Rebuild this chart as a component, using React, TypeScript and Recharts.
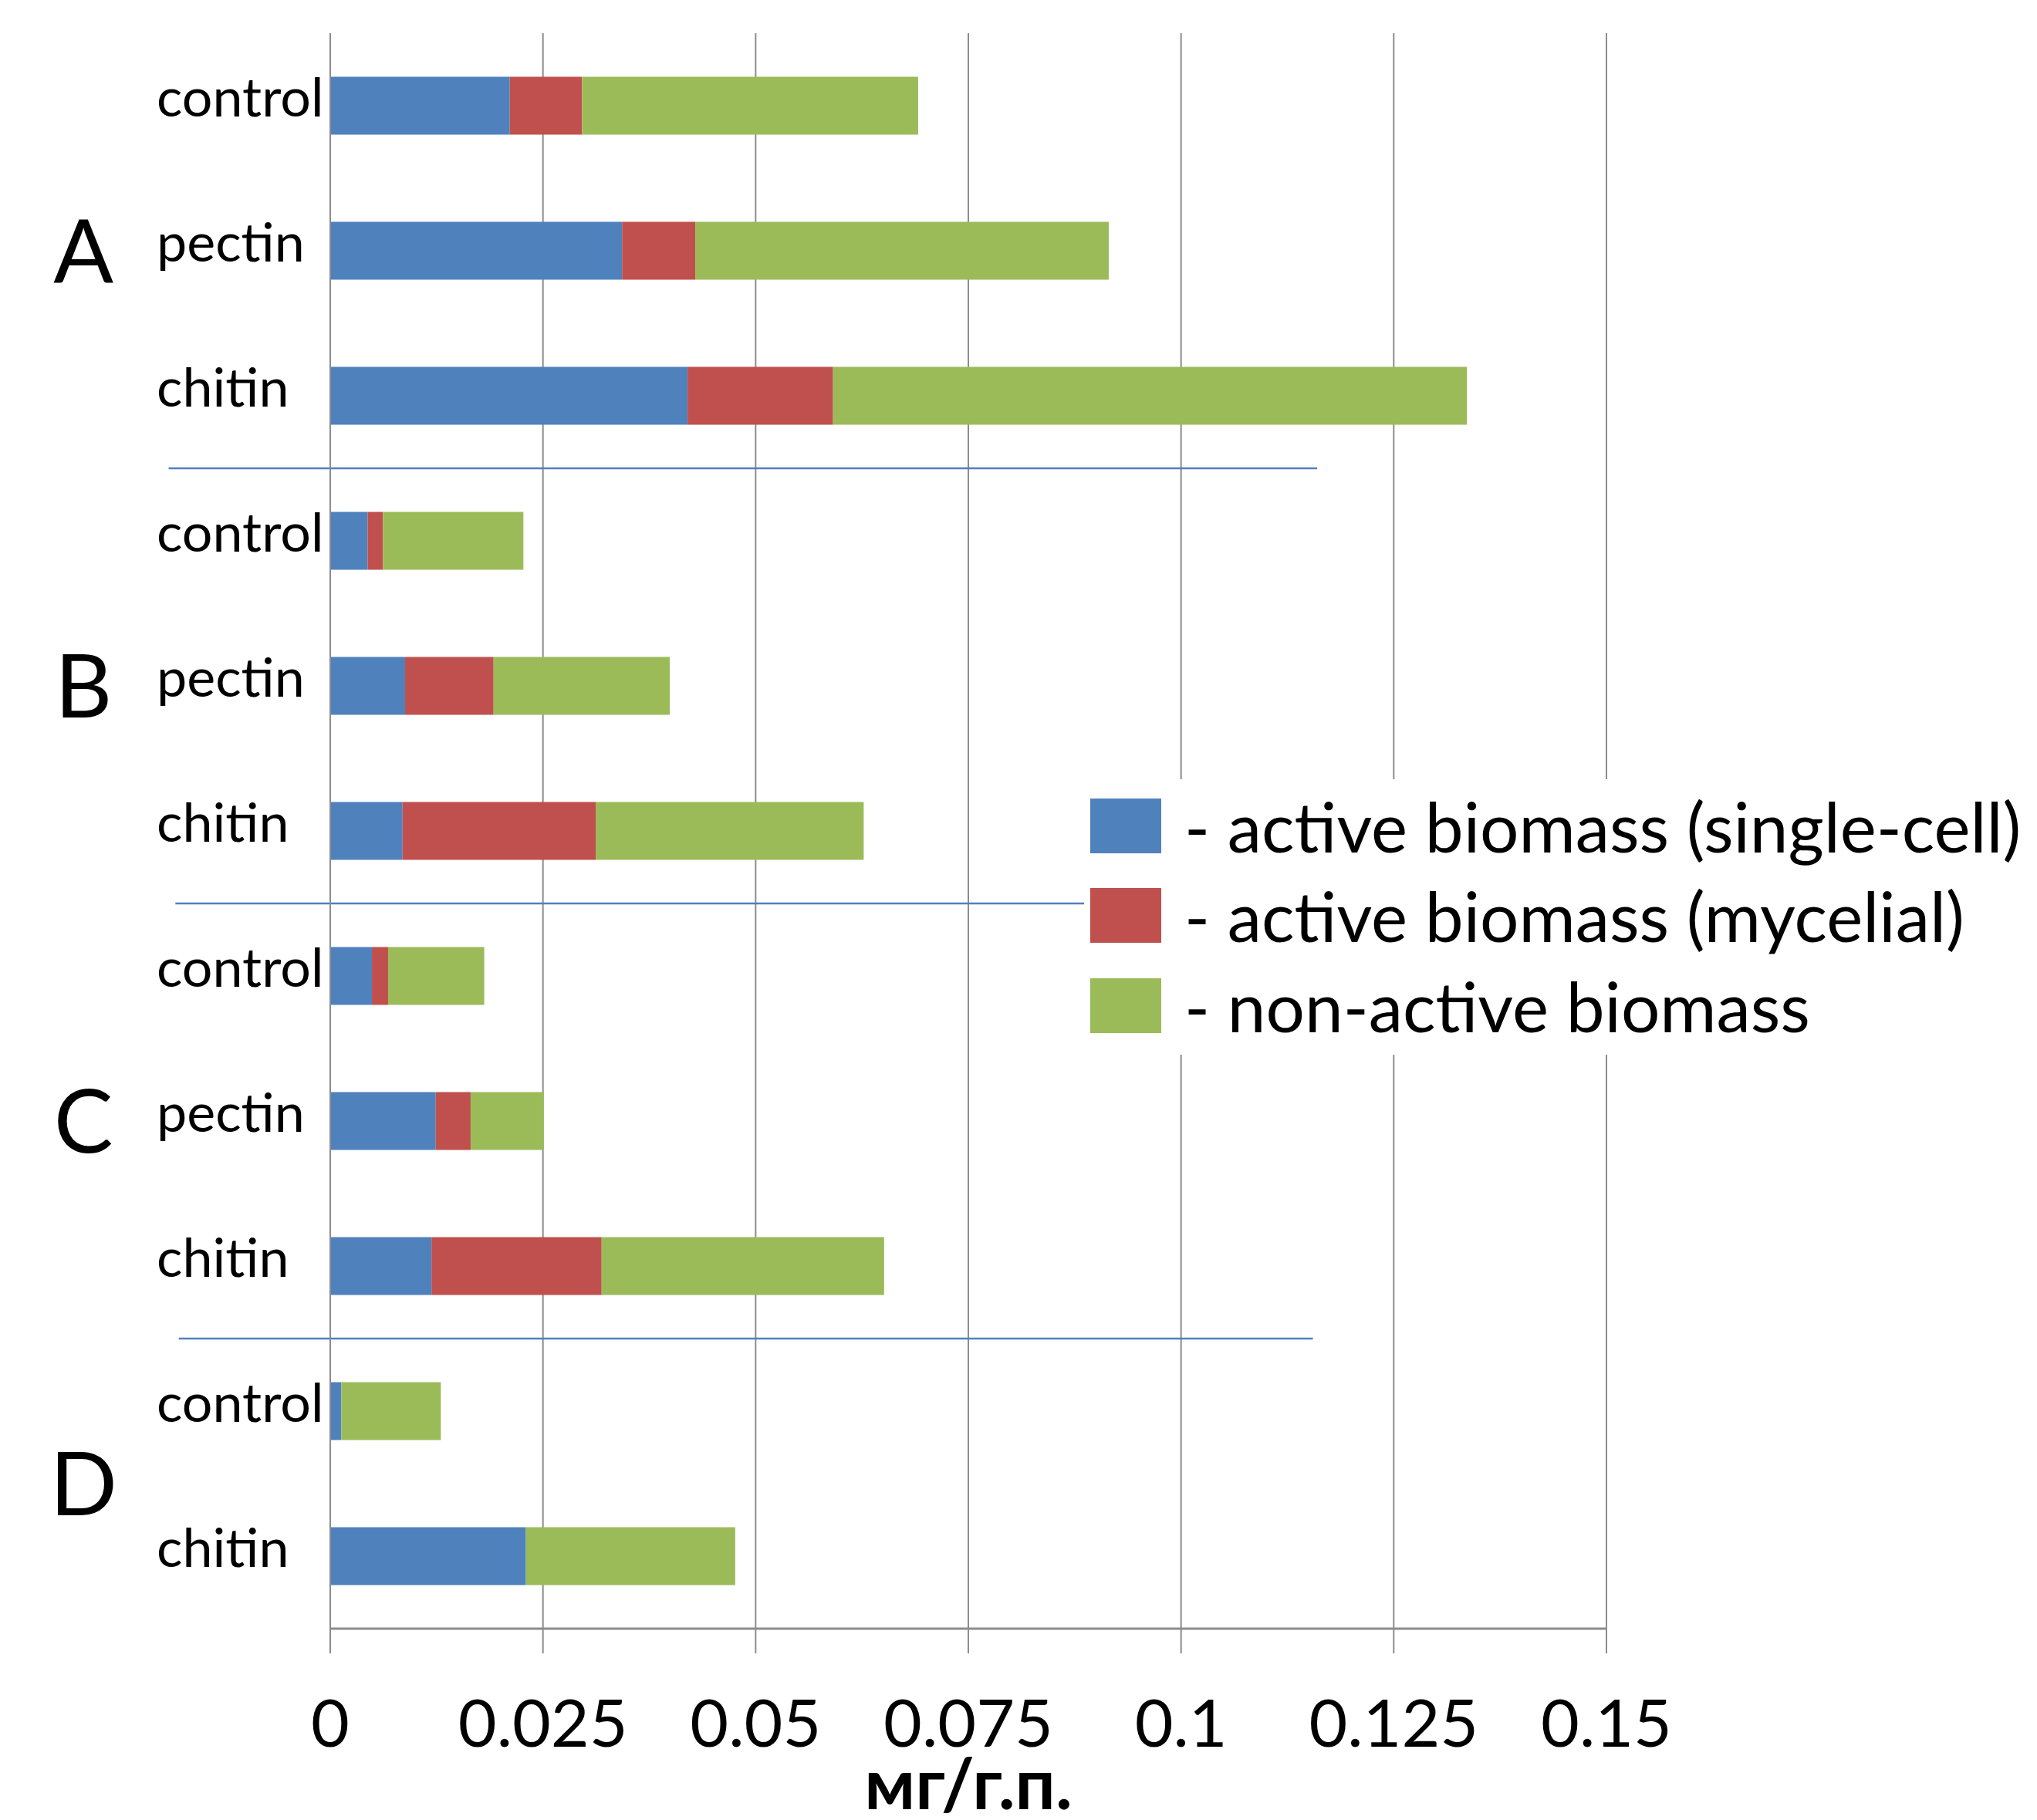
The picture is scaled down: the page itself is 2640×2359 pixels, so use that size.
import { BarChart, Bar, XAxis, YAxis, CartesianGrid, Legend, ReferenceLine, ReferenceArea } from 'recharts';

const categories = ['control', 'pectin', 'chitin', 'control', 'pectin', 'chitin', 'control', 'pectin', 'chitin', 'control', 'chitin'];
const groupOf = ['A', 'A', 'A', 'B', 'B', 'B', 'C', 'C', 'C', 'D', 'D'];
const groupLetters = ['A', 'B', 'C', 'D'];

const singleCell = [0.0211, 0.0343, 0.042, 0.0044, 0.0088, 0.0085, 0.0049, 0.0124, 0.0119, 0.0013, 0.023];
const mycelial = [0.0085, 0.0086, 0.0171, 0.0018, 0.0104, 0.0227, 0.0019, 0.0041, 0.02, 0, 0];
const nonActive = [0.0395, 0.0486, 0.0745, 0.0165, 0.0207, 0.0315, 0.0113, 0.0086, 0.0332, 0.0117, 0.0246];

const xTicks = [0, 0.025, 0.05, 0.075, 0.1, 0.125, 0.15];
const axisTitle = 'мг/г.п.';

const series = [
  { key: 'single', name: '- active biomass (single-cell)', color: '#4F81BD' },
  { key: 'mycelial', name: '- active biomass (mycelial)', color: '#C0504D' },
  { key: 'nonActive', name: '- non-active biomass', color: '#9BBB59' },
];

// thin hand-drawn separators between groups (x extents in axis units)
const separatorSpans = [
  [-0.019, 0.116],
  [-0.0182, 0.116],
  [-0.0178, 0.1155],
];

const data = categories.map((name, i) => ({
  key: `${groupOf[i]}-${name}`,
  name,
  single: singleCell[i],
  mycelial: mycelial[i],
  nonActive: nonActive[i],
}));

const groupKeys = groupLetters.map((g) => data.filter((d) => d.key.startsWith(g + '-')).map((d) => d.key));

const FONT = 'Lato, "Open Sans", sans-serif';
const GRID = '#8c8c8c';

function CategoryTick({ y, payload }: any) {
  const name = String(payload.value).split('-')[1];
  return (
    <text x={203} y={y} dy="0.2em" fontSize={70} fill="#000" textAnchor="start" fontFamily={FONT}>
      {name}
    </text>
  );
}

function LegendBox() {
  return (
    <div style={{ paddingTop: 2, fontFamily: FONT }}>
      {series.map((s) => (
        <div key={s.key} style={{ display: 'flex', alignItems: 'center', height: 116.5 }}>
          <div style={{ width: 92, height: 71, background: s.color, marginLeft: 8, marginRight: 30 }} />
          <span style={{ fontSize: 89, color: '#000', whiteSpace: 'nowrap', lineHeight: 1 }}>{s.name}</span>
        </div>
      ))}
    </div>
  );
}

export default function App() {
  return (
    <div style={{ position: 'absolute', left: 0, top: 0, width: 2640, height: 2359, background: '#fff', fontFamily: FONT }}>
      <BarChart
        width={2640}
        height={2359}
        data={data}
        layout="vertical"
        margin={{ top: 43, right: 558, bottom: 0, left: 0 }}
        barCategoryGap="30%"
      >
        <CartesianGrid horizontal={false} stroke={GRID} strokeWidth={2} />
        <XAxis
          type="number"
          domain={[0, 0.15]}
          ticks={xTicks}
          tickFormatter={(v) => String(v)}
          height={248}
          tickSize={32}
          tickMargin={60}
          tick={{ fontSize: 86, fill: '#000', fontFamily: FONT }}
          axisLine={{ stroke: GRID, strokeWidth: 3 }}
          tickLine={{ stroke: GRID, strokeWidth: 2 }}
          label={{ value: axisTitle, position: 'insideBottom', offset: 14, fontSize: 92, fontWeight: 700, fill: '#000', fontFamily: FONT }}
        />
        <YAxis
          type="category"
          dataKey="key"
          width={428}
          tick={<CategoryTick />}
          tickLine={false}
          axisLine={{ stroke: GRID, strokeWidth: 2 }}
          interval={0}
        />
        {series.map((s) => (
          <Bar key={s.key} dataKey={s.key} name={s.name} stackId="a" fill={s.color} isAnimationActive={false} />
        ))}
        {groupKeys.map((keys, i) => (
          <ReferenceArea
            key={groupLetters[i]}
            x1={-0.0355}
            x2={-0.0225}
            y1={keys[0]}
            y2={keys[keys.length - 1]}
            fill="none"
            stroke="none"
            ifOverflow="visible"
            label={{ value: groupLetters[i], position: 'center', fontSize: 115, fill: '#000', fontFamily: FONT }}
          />
        ))}
        {separatorSpans.map(([from, to], i) => {
          const after = groupKeys[i][groupKeys[i].length - 1];
          return (
            <ReferenceLine
              key={i}
              segment={[{ x: from, y: after }, { x: to, y: after }]}
              position="end"
              stroke="#4F81BD"
              strokeWidth={2.5}
              ifOverflow="visible"
            />
          );
        })}
        <Legend
          layout="horizontal"
          align="center"
          verticalAlign="middle"
          content={<LegendBox />}
          wrapperStyle={{ position: 'absolute', left: 1405, top: 1010, width: 1235, height: 357, background: '#fff' }}
        />
      </BarChart>
    </div>
  );
}
